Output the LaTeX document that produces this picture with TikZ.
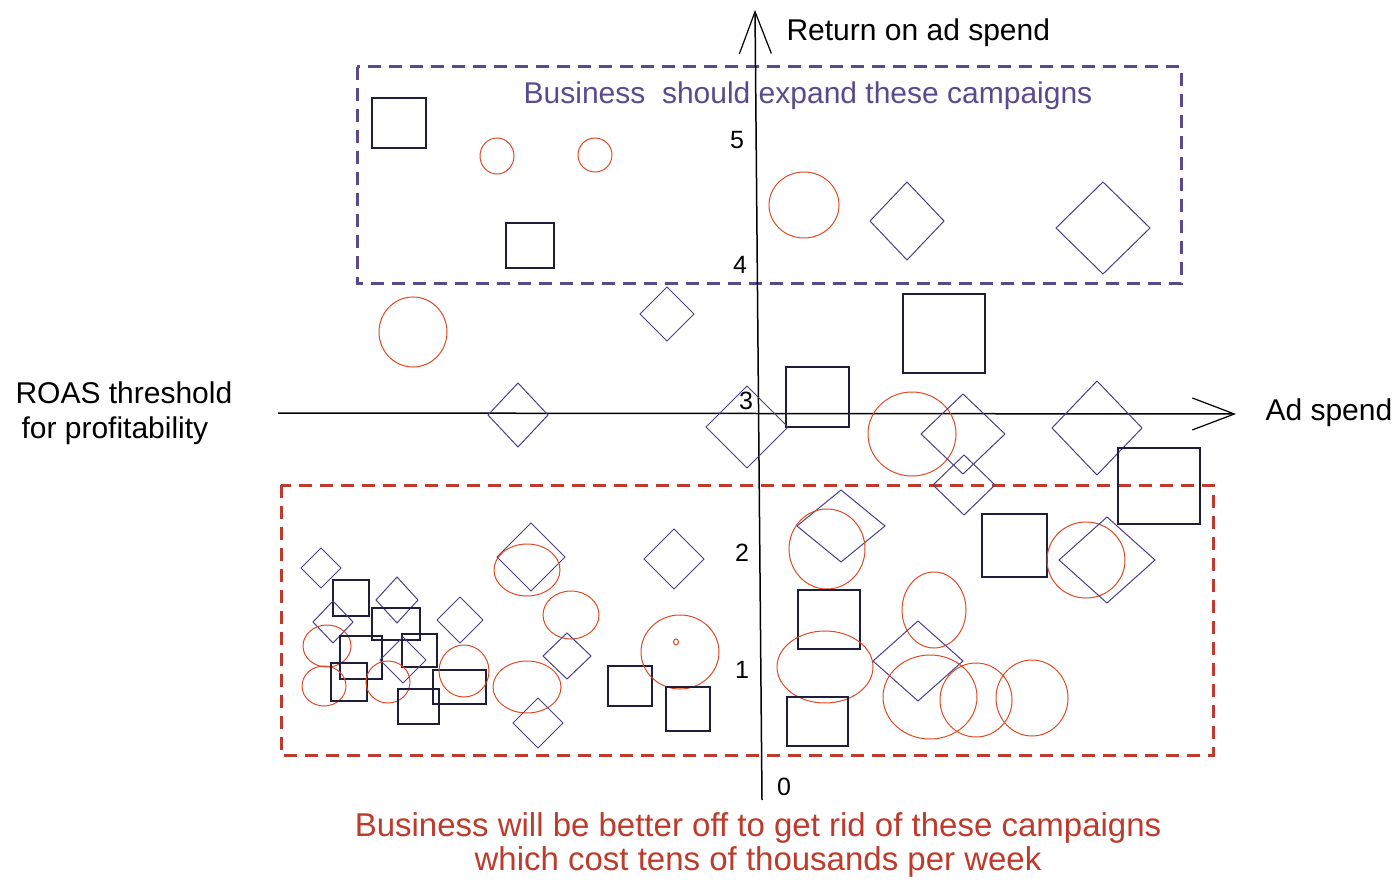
\documentclass[tikz,border=0pt]{standalone}
\usepackage{fontspec}
\setmainfont{Liberation Sans}
\usetikzlibrary{arrows.meta}
\definecolor{goodcol}{HTML}{5B4A8B}
\definecolor{badcol}{HTML}{BD3B2C}
\definecolor{ringcol}{HTML}{DE4A26}
\definecolor{diamcol}{HTML}{4A3F86}
\definecolor{sqcol}{HTML}{1E1E3A}
\newcommand{\labelfont}{\fontsize{30}{35}\selectfont}

\begin{document}
\begin{tikzpicture}[x=1pt,y=-1pt,
	sq/.style={draw=sqcol,line width=1.3pt},
	dm/.style={draw=diamcol,line width=1pt},
	ring/.style={draw=ringcol,line width=1pt},
	axis/.style={line width=1.5pt,-{Straight Barb[length=42pt,width=32pt,line width=1.2pt]}},
	goodbox/.style={draw=goodcol,line width=3pt,dash pattern=on 13pt off 8pt},
	badbox/.style={draw=badcol,line width=3pt,dash pattern=on 13pt off 8pt},
	tick/.style={font=\fontsize{25}{25}\selectfont}]

	\useasboundingbox (0,0) rectangle (1400,893);

	% boxes
	\draw[goodbox] (357,67) rectangle (1181,284);
	\draw[badbox] (281,485) rectangle (1213,755);

	% axes
	\coordinate (ybot) at (762,800);
	\coordinate (ytop) at (755,10);
	\coordinate (xleft) at (278,413);
	\coordinate (xright) at (1236,414);
	\draw[axis] (ybot) -- (ytop);
	\draw[axis] (xleft) -- (xright);

	\node[tick] (t5) at (737,140) {5};
	\node[tick] (t4) at (740,265) {4};
	\node[tick] (t3) at (746,401) {3};
	\node[tick] (t2) at (742,553) {2};
	\node[tick] (t1) at (742,670) {1};
	\node[tick] (t0) at (784,787) {0};

	\node[font=\labelfont,anchor=west] (roas) at (783,33) {Return on ad spend};
	\node[font=\labelfont,anchor=west] (spend) at (1262,413) {Ad spend};
	\node[font=\labelfont,align=left,anchor=west] (thresh) at (12,413) {ROAS threshold\\\hspace{6pt}for profitability};
	\node[font=\labelfont,text=goodcol] (expand) at (808,96) {Business\ \ should expand these campaigns};
	\node[font=\fontsize{33}{34}\selectfont,text=badcol,align=center] (drop) at (758,845) {Business will be better off to get rid of these campaigns\\which cost tens of thousands per week};

	% top
	\draw[sq] (372,98) rectangle (426,148);
	\draw[ring] (497,156) ellipse (17pt and 18pt);
	\draw[ring] (595,155) ellipse (17pt and 17pt);
	\draw[sq] (506,223) rectangle (554,268);
	\draw[ring] (804,205) ellipse (35pt and 33pt);
	\draw[dm] (907,221) +(-37,0) -- +(0,-39) -- +(37,0) -- +(0,39) -- cycle;
	\draw[dm] (1103,228) +(-47,0) -- +(0,-46) -- +(47,0) -- +(0,46) -- cycle;

	% middle
	\draw[ring] (413,332) ellipse (34pt and 35pt);
	\draw[dm] (667,314) +(-27,0) -- +(0,-27) -- +(27,0) -- +(0,27) -- cycle;
	\draw[sq] (903,294) rectangle (985,373);
	\draw[sq] (786,367) rectangle (849,427);
	\draw[dm] (518,415) +(-30,0) -- +(0,-32) -- +(30,0) -- +(0,32) -- cycle;
	\draw[dm] (747,427) +(-41,0) -- +(0,-41) -- +(41,0) -- +(0,41) -- cycle;
	\draw[ring] (912,434) ellipse (44pt and 42pt);
	\draw[dm] (963,434) +(-42,0) -- +(0,-40) -- +(42,0) -- +(0,40) -- cycle;
	\draw[dm] (964,485) +(-31,0) -- +(0,-30) -- +(31,0) -- +(0,30) -- cycle;
	\draw[dm] (1097,428) +(-45,0) -- +(0,-47) -- +(45,0) -- +(0,47) -- cycle;
	\draw[sq] (1118,448) rectangle (1200,524);

	% lower right
	\draw[dm] (841,526) +(-44,0) -- +(0,-36) -- +(44,0) -- +(0,36) -- cycle;
	\draw[ring] (827,549) ellipse (38pt and 40pt);
	\draw[sq] (982,514) rectangle (1047,577);
	\draw[ring] (1086,560) ellipse (39pt and 38pt);
	\draw[dm] (1107,560) +(-48,0) -- +(0,-43) -- +(48,0) -- +(0,43) -- cycle;
	\draw[ring] (934,610) ellipse (32pt and 38pt);
	\draw[sq] (798,590) rectangle (860,649);
	\draw[ring] (825,667) ellipse (48pt and 36pt);
	\draw[dm] (918,661) +(-45,0) -- +(0,-40) -- +(45,0) -- +(0,40) -- cycle;
	\draw[ring] (930,697) ellipse (47pt and 42pt);
	\draw[ring] (976,700) ellipse (36pt and 37pt);
	\draw[ring] (1032,698) ellipse (36pt and 38pt);
	\draw[sq] (787,697) rectangle (848,746);

	% lower left
	\draw[dm] (321,568) +(-20,0) -- +(0,-20) -- +(20,0) -- +(0,20) -- cycle;
	\draw[sq] (333,580) rectangle (369,616);
	\draw[dm] (397,600) +(-21,0) -- +(0,-23) -- +(21,0) -- +(0,23) -- cycle;
	\draw[dm] (333,622) +(-20,0) -- +(0,-21) -- +(20,0) -- +(0,21) -- cycle;
	\draw[sq] (372,608) rectangle (420,640);
	\draw[dm] (460,620) +(-23,0) -- +(0,-23) -- +(23,0) -- +(0,23) -- cycle;
	\draw[dm] (531,557) +(-34,0) -- +(0,-34) -- +(34,0) -- +(0,34) -- cycle;
	\draw[ring] (527,570) ellipse (33pt and 26pt);
	\draw[ring] (571,615) ellipse (28pt and 24pt);
	\draw[dm] (674,559) +(-30,0) -- +(0,-30) -- +(30,0) -- +(0,30) -- cycle;
	\draw[ring] (327,646) ellipse (24pt and 21pt);
	\draw[sq] (340,636) rectangle (382,679);
	\draw[sq] (402,634) rectangle (437,667);
	\draw[dm] (403,660) +(-23,0) -- +(0,-23) -- +(23,0) -- +(0,23) -- cycle;
	\draw[ring] (324,686) ellipse (22pt and 20pt);
	\draw[sq] (331,663) rectangle (367,701);
	\draw[ring] (388,682) ellipse (22pt and 21pt);
	\draw[sq] (398,689) rectangle (439,724);
	\draw[sq] (433,670) rectangle (486,704);
	\draw[ring] (464,671) ellipse (25pt and 26pt);
	\draw[ring] (527,687) ellipse (34pt and 26pt);
	\draw[dm] (567,656) +(-24,0) -- +(0,-23) -- +(24,0) -- +(0,23) -- cycle;
	\draw[dm] (538,723) +(-25,0) -- +(0,-25) -- +(25,0) -- +(0,25) -- cycle;
	\draw[sq] (608,666) rectangle (652,706);
	\draw[ring] (680,652) ellipse (39pt and 37pt);
	\draw[ring] (676,642) ellipse (2.5pt and 3pt);
	\draw[sq] (666,687) rectangle (710,731);

\end{tikzpicture}
\end{document}
